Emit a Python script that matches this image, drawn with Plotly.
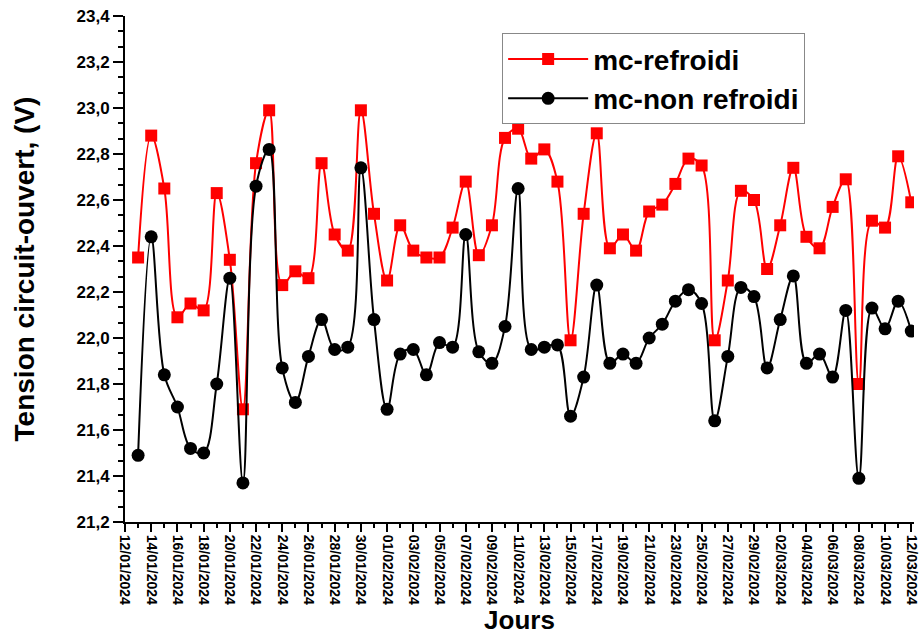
import pandas as pd
import plotly.graph_objects as go

jours = pd.date_range("2024-01-13", "2024-03-12", freq="D")

mc_refroidi = [
    22.35, 22.88, 22.65, 22.09, 22.15, 22.12, 22.63, 22.34, 21.69, 22.76,
    22.99, 22.23, 22.29, 22.26, 22.76, 22.45, 22.38, 22.99, 22.54, 22.25,
    22.49, 22.38, 22.35, 22.35, 22.48, 22.68, 22.36, 22.49, 22.87, 22.91,
    22.78, 22.82, 22.68, 21.99, 22.54, 22.89, 22.39, 22.45, 22.38, 22.55,
    22.58, 22.67, 22.78, 22.75, 21.99, 22.25, 22.64, 22.60, 22.30, 22.49,
    22.74, 22.44, 22.39, 22.57, 22.69, 21.80, 22.51, 22.48, 22.79, 22.59,
]
mc_non_refroidi = [
    21.49, 22.44, 21.84, 21.70, 21.52, 21.50, 21.80, 22.26, 21.37, 22.66,
    22.82, 21.87, 21.72, 21.92, 22.08, 21.95, 21.96, 22.74, 22.08, 21.69,
    21.93, 21.95, 21.84, 21.98, 21.96, 22.45, 21.94, 21.89, 22.05, 22.65,
    21.95, 21.96, 21.97, 21.66, 21.83, 22.23, 21.89, 21.93, 21.89, 22.00,
    22.06, 22.16, 22.21, 22.15, 21.64, 21.92, 22.22, 22.18, 21.87, 22.08,
    22.27, 21.89, 21.93, 21.83, 22.12, 21.39, 22.13, 22.04, 22.16, 22.03,
]

font_bold = "Liberation Sans"

fig = go.Figure()
fig.add_trace(go.Scatter(
    x=jours, y=mc_refroidi, mode="lines+markers", name="mc-refroidi",
    line=dict(color="#FF0000", width=2, shape="spline", smoothing=1),
    marker=dict(symbol="square", size=12, color="#FF0000"),
))
fig.add_trace(go.Scatter(
    x=jours, y=mc_non_refroidi, mode="lines+markers", name="mc-non refroidi",
    line=dict(color="#000000", width=2, shape="spline", smoothing=1),
    marker=dict(symbol="circle", size=13, color="#000000"),
))

fig.update_layout(
    width=919, height=637,
    margin=dict(l=125, r=5, t=16, b=115),
    paper_bgcolor="white", plot_bgcolor="white",
    separators=", ",
    font=dict(family=font_bold, color="black"),
    showlegend=True,
    legend=dict(
        x=0.478, y=0.966, xanchor="left", yanchor="top",
        bordercolor="#888888", borderwidth=1, bgcolor="white",
        font=dict(size=28, family=font_bold, color="black", weight="bold"),
        itemwidth=80,
    ),
)

fig.update_xaxes(
    range=["2024-01-12", "2024-03-12 05:00"],
    tickformat="%d/%m/%Y", dtick=2 * 86400000, tick0="2024-01-12",
    tickangle=90, ticklabeloverflow="allow",
    tickfont=dict(size=14, family=font_bold, weight="bold"),
    showline=True, linecolor="black", linewidth=2,
    ticks="outside", ticklen=8, tickwidth=2, tickcolor="black",
    minor=dict(dtick=86400000, ticks="outside", ticklen=4, tickwidth=1.5, tickcolor="black"),
    showgrid=False, zeroline=False, automargin=False,
    title=dict(text="Jours", font=dict(size=26, family=font_bold, weight="bold"), standoff=4),
)
fig.update_yaxes(
    range=[21.2, 23.4], dtick=0.2, tick0=21.2, tickformat=".1f",
    ticklabeloverflow="allow",
    tickfont=dict(size=17, family=font_bold, weight="bold"),
    showline=True, linecolor="black", linewidth=2,
    ticks="outside", ticklen=10, tickwidth=2, tickcolor="black",
    minor=dict(dtick=0.2 / 3, ticks="outside", ticklen=5, tickwidth=1.5, tickcolor="black"),
    showgrid=False, zeroline=False, automargin=False,
    title=dict(text="Tension circuit-ouvert, (V)", font=dict(size=28, family=font_bold, weight="bold"), standoff=34),
)

# drop the default page margin so the figure sits at the window's corner
fig.write_html(
    "out.html",
    config={"displayModeBar": False},
    post_script="document.body.style.margin = '0';",
)
